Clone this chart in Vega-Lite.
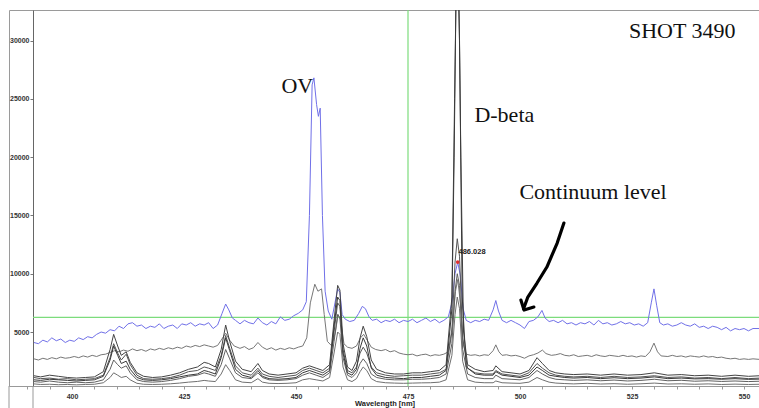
{
"$schema": "https://vega.github.io/schema/vega-lite/v6.json",
"width": 751, "height": 376,
"autosize": "none",
"padding": {"left": 9, "top": 10, "right": 0, "bottom": 22},
"background": "white",
"config": {"view": {"stroke": "#9a9a9a", "strokeWidth": 1}, "font": "Liberation Sans"},
"datasets": {
"spec": [
{"s":"B","x":391.5,"y":4100},{"s":"B","x":392.5,"y":4000},{"s":"B","x":393.5,"y":4300},{"s":"B","x":394.5,"y":4150},{"s":"B","x":395.5,"y":4500},{"s":"B","x":396.5,"y":4250},{"s":"B","x":397.5,"y":4400},{"s":"B","x":398.5,"y":4100},{"s":"B","x":399.5,"y":4300},{"s":"B","x":400.5,"y":4200},{"s":"B","x":401.5,"y":4500},{"s":"B","x":402.5,"y":4350},{"s":"B","x":403.5,"y":4600},{"s":"B","x":404.5,"y":4500},{"s":"B","x":405.5,"y":4800},{"s":"B","x":406.5,"y":5000},{"s":"B","x":407.5,"y":4900},{"s":"B","x":408.5,"y":5200},{"s":"B","x":409.5,"y":5100},{"s":"B","x":410.5,"y":5500},{"s":"B","x":411.5,"y":5300},{"s":"B","x":412.5,"y":5700},{"s":"B","x":413.5,"y":5800},{"s":"B","x":414.5,"y":5500},{"s":"B","x":415.5,"y":5600},{"s":"B","x":416.5,"y":5300},{"s":"B","x":417.5,"y":5500},{"s":"B","x":418.5,"y":5400},{"s":"B","x":419.5,"y":5700},{"s":"B","x":420.5,"y":5300},{"s":"B","x":421.5,"y":5500},{"s":"B","x":422.5,"y":5600},{"s":"B","x":423.5,"y":5300},{"s":"B","x":424.5,"y":5700},{"s":"B","x":425.5,"y":5600},{"s":"B","x":426.5,"y":5800},{"s":"B","x":427.5,"y":5500},{"s":"B","x":428.5,"y":5700},{"s":"B","x":429.5,"y":5600},{"s":"B","x":430.5,"y":5800},{"s":"B","x":431.5,"y":5300},{"s":"B","x":432.5,"y":5600},{"s":"B","x":433.5,"y":6600},{"s":"B","x":434.3,"y":7400},{"s":"B","x":435.0,"y":6900},{"s":"B","x":435.8,"y":6200},{"s":"B","x":436.5,"y":6000},{"s":"B","x":437.5,"y":5700},{"s":"B","x":438.5,"y":6000},{"s":"B","x":439.5,"y":5800},{"s":"B","x":440.5,"y":5700},{"s":"B","x":441.5,"y":6200},{"s":"B","x":442.5,"y":5800},{"s":"B","x":443.5,"y":5600},{"s":"B","x":444.5,"y":5900},{"s":"B","x":445.5,"y":5700},{"s":"B","x":446.5,"y":6300},{"s":"B","x":447.5,"y":6000},{"s":"B","x":448.5,"y":6100},{"s":"B","x":449.5,"y":6400},{"s":"B","x":450.5,"y":6600},{"s":"B","x":451.5,"y":6900},{"s":"B","x":452.3,"y":7600},{"s":"B","x":453.0,"y":15000},{"s":"B","x":453.6,"y":26200},{"s":"B","x":454.0,"y":26800},{"s":"B","x":454.6,"y":24500},{"s":"B","x":455.0,"y":23500},{"s":"B","x":455.4,"y":24200},{"s":"B","x":455.9,"y":15000},{"s":"B","x":456.5,"y":8500},{"s":"B","x":457.2,"y":6800},{"s":"B","x":458.0,"y":6100},{"s":"B","x":458.7,"y":7500},{"s":"B","x":459.3,"y":8700},{"s":"B","x":459.8,"y":8400},{"s":"B","x":460.3,"y":6500},{"s":"B","x":461.0,"y":6100},{"s":"B","x":462.0,"y":5900},{"s":"B","x":463.0,"y":6000},{"s":"B","x":464.0,"y":6600},{"s":"B","x":464.8,"y":7200},{"s":"B","x":465.5,"y":7000},{"s":"B","x":466.3,"y":6300},{"s":"B","x":467.0,"y":6000},{"s":"B","x":468.0,"y":6100},{"s":"B","x":469.0,"y":5800},{"s":"B","x":470.0,"y":6000},{"s":"B","x":471.0,"y":5900},{"s":"B","x":472.0,"y":6100},{"s":"B","x":473.0,"y":5800},{"s":"B","x":474.0,"y":6000},{"s":"B","x":475.0,"y":5900},{"s":"B","x":476.0,"y":6100},{"s":"B","x":477.0,"y":5800},{"s":"B","x":478.0,"y":6000},{"s":"B","x":479.0,"y":6200},{"s":"B","x":480.0,"y":5900},{"s":"B","x":481.0,"y":6100},{"s":"B","x":482.0,"y":5800},{"s":"B","x":483.0,"y":6000},{"s":"B","x":484.0,"y":6300},{"s":"B","x":484.8,"y":7500},{"s":"B","x":485.5,"y":10000},{"s":"B","x":486.1,"y":11000},{"s":"B","x":486.7,"y":9800},{"s":"B","x":487.3,"y":7000},{"s":"B","x":488.0,"y":6000},{"s":"B","x":489.0,"y":5800},{"s":"B","x":490.0,"y":6000},{"s":"B","x":491.0,"y":5900},{"s":"B","x":492.0,"y":6100},{"s":"B","x":493.0,"y":6000},{"s":"B","x":494.0,"y":6900},{"s":"B","x":494.6,"y":7700},{"s":"B","x":495.2,"y":6800},{"s":"B","x":496.0,"y":6000},{"s":"B","x":497.0,"y":5800},{"s":"B","x":498.0,"y":6000},{"s":"B","x":499.0,"y":5800},{"s":"B","x":500.0,"y":5600},{"s":"B","x":501.0,"y":5300},{"s":"B","x":502.0,"y":5900},{"s":"B","x":503.0,"y":6000},{"s":"B","x":504.0,"y":6300},{"s":"B","x":504.9,"y":6850},{"s":"B","x":505.6,"y":6200},{"s":"B","x":506.5,"y":5900},{"s":"B","x":507.5,"y":6000},{"s":"B","x":508.5,"y":5800},{"s":"B","x":509.5,"y":6000},{"s":"B","x":510.5,"y":5700},{"s":"B","x":511.5,"y":5800},{"s":"B","x":512.5,"y":5600},{"s":"B","x":513.5,"y":5800},{"s":"B","x":514.5,"y":5700},{"s":"B","x":515.5,"y":5900},{"s":"B","x":516.5,"y":5600},{"s":"B","x":517.5,"y":6000},{"s":"B","x":518.5,"y":5700},{"s":"B","x":519.5,"y":5800},{"s":"B","x":520.5,"y":5600},{"s":"B","x":521.5,"y":5700},{"s":"B","x":522.5,"y":5900},{"s":"B","x":523.5,"y":5700},{"s":"B","x":524.5,"y":5800},{"s":"B","x":525.5,"y":5600},{"s":"B","x":526.5,"y":5700},{"s":"B","x":527.5,"y":5500},{"s":"B","x":528.5,"y":5800},{"s":"B","x":529.3,"y":7500},{"s":"B","x":529.9,"y":8700},{"s":"B","x":530.5,"y":7300},{"s":"B","x":531.2,"y":5800},{"s":"B","x":532.0,"y":5600},{"s":"B","x":533.0,"y":5700},{"s":"B","x":534.0,"y":5500},{"s":"B","x":535.0,"y":5600},{"s":"B","x":536.0,"y":5800},{"s":"B","x":537.0,"y":5600},{"s":"B","x":538.0,"y":5500},{"s":"B","x":539.0,"y":5700},{"s":"B","x":540.0,"y":5400},{"s":"B","x":541.0,"y":5500},{"s":"B","x":542.0,"y":5300},{"s":"B","x":543.0,"y":5500},{"s":"B","x":544.0,"y":5400},{"s":"B","x":545.0,"y":5200},{"s":"B","x":546.0,"y":5400},{"s":"B","x":547.0,"y":5100},{"s":"B","x":548.0,"y":5300},{"s":"B","x":549.0,"y":5200},{"s":"B","x":550.0,"y":5300},{"s":"B","x":551.0,"y":5100},{"s":"B","x":552.0,"y":5300},{"s":"B","x":553.5,"y":5300},

{"s":"G","x":391.5,"y":2700},{"s":"G","x":392.5,"y":2600},{"s":"G","x":393.5,"y":2750},{"s":"G","x":394.5,"y":2650},{"s":"G","x":395.5,"y":2800},{"s":"G","x":396.5,"y":2700},{"s":"G","x":397.5,"y":2850},{"s":"G","x":398.5,"y":2750},{"s":"G","x":399.5,"y":2800},{"s":"G","x":400.5,"y":2900},{"s":"G","x":401.5,"y":2800},{"s":"G","x":402.5,"y":2950},{"s":"G","x":403.5,"y":2850},{"s":"G","x":404.5,"y":3000},{"s":"G","x":405.5,"y":2900},{"s":"G","x":406.5,"y":3050},{"s":"G","x":407.5,"y":3100},{"s":"G","x":408.5,"y":3250},{"s":"G","x":409.5,"y":3400},{"s":"G","x":410.5,"y":3300},{"s":"G","x":411.5,"y":3450},{"s":"G","x":412.5,"y":3350},{"s":"G","x":413.5,"y":3550},{"s":"G","x":414.5,"y":3400},{"s":"G","x":415.5,"y":3500},{"s":"G","x":416.5,"y":3350},{"s":"G","x":417.5,"y":3550},{"s":"G","x":418.5,"y":3450},{"s":"G","x":419.5,"y":3600},{"s":"G","x":420.5,"y":3500},{"s":"G","x":421.5,"y":3650},{"s":"G","x":422.5,"y":3550},{"s":"G","x":423.5,"y":3700},{"s":"G","x":424.5,"y":3600},{"s":"G","x":425.5,"y":3800},{"s":"G","x":426.5,"y":3700},{"s":"G","x":427.5,"y":3850},{"s":"G","x":428.5,"y":3750},{"s":"G","x":429.5,"y":3900},{"s":"G","x":430.5,"y":3800},{"s":"G","x":431.5,"y":3700},{"s":"G","x":432.5,"y":3850},{"s":"G","x":433.3,"y":4300},{"s":"G","x":434.3,"y":4900},{"s":"G","x":435.2,"y":4300},{"s":"G","x":436.2,"y":3800},{"s":"G","x":437.5,"y":3600},{"s":"G","x":438.5,"y":3750},{"s":"G","x":439.5,"y":3500},{"s":"G","x":440.5,"y":3650},{"s":"G","x":441.5,"y":4100},{"s":"G","x":442.5,"y":3700},{"s":"G","x":443.5,"y":3500},{"s":"G","x":444.5,"y":3650},{"s":"G","x":445.5,"y":3450},{"s":"G","x":446.5,"y":3600},{"s":"G","x":447.5,"y":3500},{"s":"G","x":448.5,"y":3650},{"s":"G","x":449.5,"y":3550},{"s":"G","x":450.5,"y":3700},{"s":"G","x":451.5,"y":3800},{"s":"G","x":452.4,"y":4500},{"s":"G","x":453.2,"y":7500},{"s":"G","x":454.2,"y":9100},{"s":"G","x":454.9,"y":8500},{"s":"G","x":455.7,"y":8700},{"s":"G","x":456.3,"y":6500},{"s":"G","x":457.0,"y":4200},{"s":"G","x":458.0,"y":3800},{"s":"G","x":458.8,"y":5000},{"s":"G","x":459.4,"y":6500},{"s":"G","x":460.0,"y":6000},{"s":"G","x":460.7,"y":4000},{"s":"G","x":461.5,"y":3700},{"s":"G","x":462.5,"y":3600},{"s":"G","x":463.5,"y":3800},{"s":"G","x":464.4,"y":4500},{"s":"G","x":465.1,"y":4800},{"s":"G","x":465.9,"y":4300},{"s":"G","x":466.8,"y":3700},{"s":"G","x":467.8,"y":3500},{"s":"G","x":469,"y":3400},{"s":"G","x":470,"y":3500},{"s":"G","x":471,"y":3300},{"s":"G","x":472,"y":3400},{"s":"G","x":473,"y":3200},{"s":"G","x":474,"y":3100},{"s":"G","x":475,"y":3050},{"s":"G","x":476,"y":3100},{"s":"G","x":477,"y":2950},{"s":"G","x":478,"y":3050},{"s":"G","x":479,"y":3100},{"s":"G","x":480,"y":2950},{"s":"G","x":481,"y":3050},{"s":"G","x":482,"y":3000},{"s":"G","x":483,"y":3100},{"s":"G","x":484,"y":3300},{"s":"G","x":484.9,"y":5500},{"s":"G","x":485.6,"y":8500},{"s":"G","x":486.1,"y":9500},{"s":"G","x":486.7,"y":7500},{"s":"G","x":487.3,"y":4000},{"s":"G","x":488,"y":3100},{"s":"G","x":489,"y":3000},{"s":"G","x":490,"y":3050},{"s":"G","x":491,"y":2950},{"s":"G","x":492,"y":3050},{"s":"G","x":493,"y":3000},{"s":"G","x":494,"y":3400},{"s":"G","x":494.6,"y":3900},{"s":"G","x":495.3,"y":3300},{"s":"G","x":496,"y":3000},{"s":"G","x":497,"y":3050},{"s":"G","x":498,"y":2950},{"s":"G","x":499,"y":3000},{"s":"G","x":500,"y":2900},{"s":"G","x":501,"y":2750},{"s":"G","x":502,"y":2950},{"s":"G","x":503,"y":3050},{"s":"G","x":504,"y":3200},{"s":"G","x":505,"y":3450},{"s":"G","x":505.8,"y":3150},{"s":"G","x":507,"y":3000},{"s":"G","x":508,"y":3050},{"s":"G","x":509,"y":3150},{"s":"G","x":510,"y":3000},{"s":"G","x":511,"y":2950},{"s":"G","x":512,"y":3050},{"s":"G","x":513,"y":2900},{"s":"G","x":514,"y":2950},{"s":"G","x":515,"y":3000},{"s":"G","x":516,"y":2900},{"s":"G","x":517,"y":3050},{"s":"G","x":518,"y":2950},{"s":"G","x":519,"y":2900},{"s":"G","x":520,"y":3000},{"s":"G","x":521,"y":2950},{"s":"G","x":522,"y":2900},{"s":"G","x":523,"y":3000},{"s":"G","x":524,"y":2900},{"s":"G","x":525,"y":2950},{"s":"G","x":526,"y":2850},{"s":"G","x":527,"y":2950},{"s":"G","x":528,"y":2900},{"s":"G","x":529,"y":3300},{"s":"G","x":529.9,"y":4050},{"s":"G","x":530.7,"y":3300},{"s":"G","x":531.5,"y":2950},{"s":"G","x":533,"y":2900},{"s":"G","x":534,"y":3000},{"s":"G","x":535,"y":2900},{"s":"G","x":536,"y":2950},{"s":"G","x":537,"y":2850},{"s":"G","x":538,"y":2950},{"s":"G","x":539,"y":2900},{"s":"G","x":540,"y":2850},{"s":"G","x":541,"y":2950},{"s":"G","x":542,"y":2850},{"s":"G","x":543,"y":2900},{"s":"G","x":544,"y":2800},{"s":"G","x":545,"y":2850},{"s":"G","x":546,"y":2750},{"s":"G","x":547,"y":2700},{"s":"G","x":548,"y":2750},{"s":"G","x":549,"y":2650},{"s":"G","x":550,"y":2700},{"s":"G","x":551,"y":2650},{"s":"G","x":552,"y":2700},{"s":"G","x":553.5,"y":2650},

{"s":"K1","x":391.5,"y":1250},{"s":"K1","x":393,"y":1150},{"s":"K1","x":395,"y":1300},{"s":"K1","x":397,"y":1200},{"s":"K1","x":399,"y":1100},{"s":"K1","x":401,"y":1050},{"s":"K1","x":403,"y":1100},{"s":"K1","x":405,"y":1150},{"s":"K1","x":407,"y":1600},{"s":"K1","x":408.5,"y":3500},{"s":"K1","x":409.3,"y":4800},{"s":"K1","x":410.2,"y":3800},{"s":"K1","x":411,"y":3000},{"s":"K1","x":412.1,"y":3300},{"s":"K1","x":413,"y":2400},{"s":"K1","x":414.5,"y":1500},{"s":"K1","x":416,"y":1200},{"s":"K1","x":418,"y":1100},{"s":"K1","x":420,"y":1150},{"s":"K1","x":422,"y":1300},{"s":"K1","x":424,"y":1500},{"s":"K1","x":426,"y":1800},{"s":"K1","x":428,"y":2000},{"s":"K1","x":429.5,"y":2400},{"s":"K1","x":430.5,"y":2300},{"s":"K1","x":432,"y":2000},{"s":"K1","x":433.3,"y":3500},{"s":"K1","x":434.3,"y":5600},{"s":"K1","x":435.2,"y":4200},{"s":"K1","x":436.5,"y":2500},{"s":"K1","x":438,"y":1800},{"s":"K1","x":440,"y":1600},{"s":"K1","x":441.5,"y":2300},{"s":"K1","x":442.5,"y":1700},{"s":"K1","x":444,"y":1400},{"s":"K1","x":446,"y":1300},{"s":"K1","x":448,"y":1400},{"s":"K1","x":450,"y":1500},{"s":"K1","x":451.5,"y":1900},{"s":"K1","x":453,"y":2100},{"s":"K1","x":454.5,"y":1900},{"s":"K1","x":456,"y":1700},{"s":"K1","x":457.5,"y":2200},{"s":"K1","x":458.5,"y":6000},{"s":"K1","x":459.3,"y":9000},{"s":"K1","x":459.8,"y":8600},{"s":"K1","x":460.5,"y":4000},{"s":"K1","x":461.5,"y":2000},{"s":"K1","x":462.5,"y":1700},{"s":"K1","x":463.5,"y":2500},{"s":"K1","x":464.3,"y":4500},{"s":"K1","x":465,"y":5500},{"s":"K1","x":465.8,"y":4600},{"s":"K1","x":466.8,"y":2600},{"s":"K1","x":468,"y":1800},{"s":"K1","x":470,"y":1500},{"s":"K1","x":472,"y":1400},{"s":"K1","x":474,"y":1400},{"s":"K1","x":476,"y":1500},{"s":"K1","x":478,"y":1500},{"s":"K1","x":480,"y":1600},{"s":"K1","x":482,"y":1700},{"s":"K1","x":483.5,"y":2200},{"s":"K1","x":484.8,"y":8000},{"s":"K1","x":485.4,"y":25000},{"s":"K1","x":485.8,"y":36000},{"s":"K1","x":486.3,"y":36000},{"s":"K1","x":486.8,"y":20000},{"s":"K1","x":487.4,"y":5000},{"s":"K1","x":488.3,"y":2200},{"s":"K1","x":490,"y":1800},{"s":"K1","x":492,"y":1600},{"s":"K1","x":494,"y":1700},{"s":"K1","x":494.6,"y":2100},{"s":"K1","x":496,"y":1600},{"s":"K1","x":498,"y":1500},{"s":"K1","x":500,"y":1400},{"s":"K1","x":502,"y":1700},{"s":"K1","x":503.8,"y":2800},{"s":"K1","x":505,"y":2300},{"s":"K1","x":506.5,"y":1700},{"s":"K1","x":508,"y":1500},{"s":"K1","x":510,"y":1400},{"s":"K1","x":512,"y":1350},{"s":"K1","x":515,"y":1400},{"s":"K1","x":518,"y":1300},{"s":"K1","x":521,"y":1400},{"s":"K1","x":524,"y":1300},{"s":"K1","x":527,"y":1350},{"s":"K1","x":530,"y":1500},{"s":"K1","x":533,"y":1300},{"s":"K1","x":536,"y":1350},{"s":"K1","x":539,"y":1250},{"s":"K1","x":542,"y":1300},{"s":"K1","x":545,"y":1200},{"s":"K1","x":548,"y":1300},{"s":"K1","x":551,"y":1200},{"s":"K1","x":553.5,"y":1250},

{"s":"K2","x":391.5,"y":1100},{"s":"K2","x":393,"y":1000},{"s":"K2","x":395,"y":1050},{"s":"K2","x":397,"y":950},{"s":"K2","x":399,"y":1000},{"s":"K2","x":401,"y":900},{"s":"K2","x":403,"y":950},{"s":"K2","x":405,"y":1000},{"s":"K2","x":407,"y":1300},{"s":"K2","x":408.5,"y":2800},{"s":"K2","x":409.3,"y":4000},{"s":"K2","x":410.2,"y":3200},{"s":"K2","x":411,"y":2600},{"s":"K2","x":412.1,"y":3100},{"s":"K2","x":413,"y":2200},{"s":"K2","x":414.5,"y":1300},{"s":"K2","x":416,"y":1000},{"s":"K2","x":418,"y":950},{"s":"K2","x":420,"y":1000},{"s":"K2","x":422,"y":1100},{"s":"K2","x":424,"y":1300},{"s":"K2","x":426,"y":1600},{"s":"K2","x":428,"y":1700},{"s":"K2","x":429.5,"y":2000},{"s":"K2","x":430.5,"y":1900},{"s":"K2","x":432,"y":1700},{"s":"K2","x":433.3,"y":3000},{"s":"K2","x":434.3,"y":4700},{"s":"K2","x":435.2,"y":3600},{"s":"K2","x":436.5,"y":2100},{"s":"K2","x":438,"y":1500},{"s":"K2","x":440,"y":1300},{"s":"K2","x":441.5,"y":1900},{"s":"K2","x":442.5,"y":1400},{"s":"K2","x":444,"y":1200},{"s":"K2","x":446,"y":1100},{"s":"K2","x":448,"y":1200},{"s":"K2","x":450,"y":1300},{"s":"K2","x":451.5,"y":1700},{"s":"K2","x":453,"y":1900},{"s":"K2","x":454.5,"y":1700},{"s":"K2","x":456,"y":1500},{"s":"K2","x":457.5,"y":1900},{"s":"K2","x":458.5,"y":5000},{"s":"K2","x":459.3,"y":7500},{"s":"K2","x":459.8,"y":7200},{"s":"K2","x":460.5,"y":3500},{"s":"K2","x":461.5,"y":1700},{"s":"K2","x":462.5,"y":1500},{"s":"K2","x":463.5,"y":2000},{"s":"K2","x":464.3,"y":3200},{"s":"K2","x":465,"y":3700},{"s":"K2","x":465.8,"y":3200},{"s":"K2","x":466.8,"y":2000},{"s":"K2","x":468,"y":1500},{"s":"K2","x":470,"y":1300},{"s":"K2","x":472,"y":1200},{"s":"K2","x":474,"y":1250},{"s":"K2","x":476,"y":1300},{"s":"K2","x":478,"y":1300},{"s":"K2","x":480,"y":1400},{"s":"K2","x":482,"y":1500},{"s":"K2","x":483.5,"y":1800},{"s":"K2","x":484.8,"y":5000},{"s":"K2","x":485.5,"y":11000},{"s":"K2","x":486.0,"y":13000},{"s":"K2","x":486.5,"y":11500},{"s":"K2","x":487.2,"y":4500},{"s":"K2","x":488.3,"y":1900},{"s":"K2","x":490,"y":1500},{"s":"K2","x":492,"y":1400},{"s":"K2","x":494,"y":1400},{"s":"K2","x":494.6,"y":1700},{"s":"K2","x":496,"y":1400},{"s":"K2","x":498,"y":1300},{"s":"K2","x":500,"y":1200},{"s":"K2","x":502,"y":1500},{"s":"K2","x":503.8,"y":2300},{"s":"K2","x":505,"y":1900},{"s":"K2","x":506.5,"y":1500},{"s":"K2","x":508,"y":1300},{"s":"K2","x":510,"y":1200},{"s":"K2","x":512,"y":1150},{"s":"K2","x":515,"y":1200},{"s":"K2","x":518,"y":1100},{"s":"K2","x":521,"y":1200},{"s":"K2","x":524,"y":1100},{"s":"K2","x":527,"y":1150},{"s":"K2","x":530,"y":1250},{"s":"K2","x":533,"y":1100},{"s":"K2","x":536,"y":1150},{"s":"K2","x":539,"y":1050},{"s":"K2","x":542,"y":1100},{"s":"K2","x":545,"y":1000},{"s":"K2","x":548,"y":1100},{"s":"K2","x":551,"y":1000},{"s":"K2","x":553.5,"y":1050},

{"s":"K3","x":391.5,"y":750},{"s":"K3","x":393,"y":700},{"s":"K3","x":395,"y":800},{"s":"K3","x":397,"y":700},{"s":"K3","x":399,"y":650},{"s":"K3","x":401,"y":700},{"s":"K3","x":403,"y":650},{"s":"K3","x":405,"y":700},{"s":"K3","x":407,"y":900},{"s":"K3","x":408.5,"y":1800},{"s":"K3","x":409.3,"y":2600},{"s":"K3","x":410.2,"y":2200},{"s":"K3","x":411,"y":1900},{"s":"K3","x":412.1,"y":2100},{"s":"K3","x":413,"y":1500},{"s":"K3","x":414.5,"y":900},{"s":"K3","x":416,"y":750},{"s":"K3","x":418,"y":700},{"s":"K3","x":420,"y":750},{"s":"K3","x":422,"y":850},{"s":"K3","x":424,"y":1000},{"s":"K3","x":426,"y":1200},{"s":"K3","x":428,"y":1300},{"s":"K3","x":429.5,"y":1500},{"s":"K3","x":430.5,"y":1400},{"s":"K3","x":432,"y":1200},{"s":"K3","x":433.3,"y":2200},{"s":"K3","x":434.3,"y":3500},{"s":"K3","x":435.2,"y":2700},{"s":"K3","x":436.5,"y":1500},{"s":"K3","x":438,"y":1100},{"s":"K3","x":440,"y":1000},{"s":"K3","x":441.5,"y":1500},{"s":"K3","x":442.5,"y":1100},{"s":"K3","x":444,"y":900},{"s":"K3","x":446,"y":850},{"s":"K3","x":448,"y":900},{"s":"K3","x":450,"y":1000},{"s":"K3","x":451.5,"y":1300},{"s":"K3","x":453,"y":1500},{"s":"K3","x":454.5,"y":1300},{"s":"K3","x":456,"y":1100},{"s":"K3","x":457.5,"y":1500},{"s":"K3","x":458.5,"y":4200},{"s":"K3","x":459.3,"y":6500},{"s":"K3","x":459.8,"y":6200},{"s":"K3","x":460.5,"y":2800},{"s":"K3","x":461.5,"y":1300},{"s":"K3","x":462.5,"y":1100},{"s":"K3","x":463.5,"y":1500},{"s":"K3","x":464.3,"y":2300},{"s":"K3","x":465,"y":2700},{"s":"K3","x":465.8,"y":2300},{"s":"K3","x":466.8,"y":1400},{"s":"K3","x":468,"y":1100},{"s":"K3","x":470,"y":950},{"s":"K3","x":472,"y":900},{"s":"K3","x":474,"y":900},{"s":"K3","x":476,"y":950},{"s":"K3","x":478,"y":950},{"s":"K3","x":480,"y":1000},{"s":"K3","x":482,"y":1100},{"s":"K3","x":483.5,"y":1400},{"s":"K3","x":484.8,"y":4000},{"s":"K3","x":485.5,"y":8500},{"s":"K3","x":486.0,"y":10000},{"s":"K3","x":486.5,"y":9000},{"s":"K3","x":487.2,"y":3500},{"s":"K3","x":488.3,"y":1400},{"s":"K3","x":490,"y":1100},{"s":"K3","x":492,"y":1000},{"s":"K3","x":494,"y":1000},{"s":"K3","x":494.6,"y":1300},{"s":"K3","x":496,"y":1000},{"s":"K3","x":498,"y":950},{"s":"K3","x":500,"y":900},{"s":"K3","x":502,"y":1100},{"s":"K3","x":503.8,"y":1700},{"s":"K3","x":505,"y":1400},{"s":"K3","x":506.5,"y":1100},{"s":"K3","x":508,"y":950},{"s":"K3","x":510,"y":900},{"s":"K3","x":512,"y":850},{"s":"K3","x":515,"y":900},{"s":"K3","x":518,"y":820},{"s":"K3","x":521,"y":880},{"s":"K3","x":524,"y":800},{"s":"K3","x":527,"y":850},{"s":"K3","x":530,"y":950},{"s":"K3","x":533,"y":820},{"s":"K3","x":536,"y":860},{"s":"K3","x":539,"y":780},{"s":"K3","x":542,"y":820},{"s":"K3","x":545,"y":760},{"s":"K3","x":548,"y":800},{"s":"K3","x":551,"y":750},{"s":"K3","x":553.5,"y":780},

{"s":"K4","x":391.5,"y":550},{"s":"K4","x":393,"y":500},{"s":"K4","x":395,"y":520},{"s":"K4","x":397,"y":480},{"s":"K4","x":399,"y":500},{"s":"K4","x":401,"y":470},{"s":"K4","x":403,"y":500},{"s":"K4","x":405,"y":520},{"s":"K4","x":407,"y":650},{"s":"K4","x":408.5,"y":1100},{"s":"K4","x":409.3,"y":1500},{"s":"K4","x":410.2,"y":1300},{"s":"K4","x":411,"y":1100},{"s":"K4","x":412.1,"y":1200},{"s":"K4","x":413,"y":900},{"s":"K4","x":414.5,"y":600},{"s":"K4","x":416,"y":520},{"s":"K4","x":418,"y":500},{"s":"K4","x":420,"y":520},{"s":"K4","x":422,"y":560},{"s":"K4","x":424,"y":620},{"s":"K4","x":426,"y":700},{"s":"K4","x":428,"y":760},{"s":"K4","x":429.5,"y":850},{"s":"K4","x":430.5,"y":800},{"s":"K4","x":432,"y":750},{"s":"K4","x":433.3,"y":1400},{"s":"K4","x":434.3,"y":2200},{"s":"K4","x":435.2,"y":1700},{"s":"K4","x":436.5,"y":900},{"s":"K4","x":438,"y":700},{"s":"K4","x":440,"y":650},{"s":"K4","x":441.5,"y":1000},{"s":"K4","x":442.5,"y":700},{"s":"K4","x":444,"y":600},{"s":"K4","x":446,"y":580},{"s":"K4","x":448,"y":600},{"s":"K4","x":450,"y":650},{"s":"K4","x":451.5,"y":900},{"s":"K4","x":453,"y":1000},{"s":"K4","x":454.5,"y":900},{"s":"K4","x":456,"y":800},{"s":"K4","x":457.5,"y":1100},{"s":"K4","x":458.5,"y":3200},{"s":"K4","x":459.3,"y":5000},{"s":"K4","x":459.8,"y":4800},{"s":"K4","x":460.5,"y":2000},{"s":"K4","x":461.5,"y":900},{"s":"K4","x":462.5,"y":750},{"s":"K4","x":463.5,"y":1000},{"s":"K4","x":464.3,"y":1600},{"s":"K4","x":465,"y":2000},{"s":"K4","x":465.8,"y":1700},{"s":"K4","x":466.8,"y":1000},{"s":"K4","x":468,"y":750},{"s":"K4","x":470,"y":650},{"s":"K4","x":472,"y":620},{"s":"K4","x":474,"y":600},{"s":"K4","x":476,"y":620},{"s":"K4","x":478,"y":640},{"s":"K4","x":480,"y":650},{"s":"K4","x":482,"y":700},{"s":"K4","x":483.5,"y":900},{"s":"K4","x":484.8,"y":3000},{"s":"K4","x":485.5,"y":6500},{"s":"K4","x":486.0,"y":8000},{"s":"K4","x":486.5,"y":7000},{"s":"K4","x":487.2,"y":2500},{"s":"K4","x":488.3,"y":900},{"s":"K4","x":490,"y":700},{"s":"K4","x":492,"y":650},{"s":"K4","x":494,"y":650},{"s":"K4","x":494.6,"y":800},{"s":"K4","x":496,"y":650},{"s":"K4","x":498,"y":620},{"s":"K4","x":500,"y":600},{"s":"K4","x":502,"y":700},{"s":"K4","x":503.8,"y":1100},{"s":"K4","x":505,"y":900},{"s":"K4","x":506.5,"y":700},{"s":"K4","x":508,"y":620},{"s":"K4","x":510,"y":580},{"s":"K4","x":512,"y":550},{"s":"K4","x":515,"y":600},{"s":"K4","x":518,"y":540},{"s":"K4","x":521,"y":570},{"s":"K4","x":524,"y":520},{"s":"K4","x":527,"y":560},{"s":"K4","x":530,"y":620},{"s":"K4","x":533,"y":540},{"s":"K4","x":536,"y":560},{"s":"K4","x":539,"y":520},{"s":"K4","x":542,"y":550},{"s":"K4","x":545,"y":500},{"s":"K4","x":548,"y":530},{"s":"K4","x":551,"y":500},{"s":"K4","x":553.5,"y":520},

{"s":"K5","x":391.5,"y":900},{"s":"K5","x":393,"y":850},{"s":"K5","x":395,"y":950},{"s":"K5","x":397,"y":900},{"s":"K5","x":399,"y":850},{"s":"K5","x":401,"y":800},{"s":"K5","x":403,"y":850},{"s":"K5","x":405,"y":900},{"s":"K5","x":407,"y":1200},{"s":"K5","x":408.5,"y":2600},{"s":"K5","x":409.3,"y":3800},{"s":"K5","x":410.2,"y":3000},{"s":"K5","x":411,"y":2300},{"s":"K5","x":412.1,"y":2500},{"s":"K5","x":413,"y":1800},{"s":"K5","x":414.5,"y":1100},{"s":"K5","x":416,"y":900},{"s":"K5","x":418,"y":850},{"s":"K5","x":420,"y":900},{"s":"K5","x":422,"y":1000},{"s":"K5","x":424,"y":1150},{"s":"K5","x":426,"y":1300},{"s":"K5","x":428,"y":1400},{"s":"K5","x":429.5,"y":1700},{"s":"K5","x":430.5,"y":1600},{"s":"K5","x":432,"y":1400},{"s":"K5","x":433.3,"y":2800},{"s":"K5","x":434.3,"y":4500},{"s":"K5","x":435.2,"y":3400},{"s":"K5","x":436.5,"y":1800},{"s":"K5","x":438,"y":1300},{"s":"K5","x":440,"y":1100},{"s":"K5","x":441.5,"y":1700},{"s":"K5","x":442.5,"y":1200},{"s":"K5","x":444,"y":1000},{"s":"K5","x":446,"y":950},{"s":"K5","x":448,"y":1000},{"s":"K5","x":450,"y":1100},{"s":"K5","x":451.5,"y":1500},{"s":"K5","x":453,"y":1700},{"s":"K5","x":454.5,"y":1500},{"s":"K5","x":456,"y":1300},{"s":"K5","x":457.5,"y":1700},{"s":"K5","x":458.5,"y":5500},{"s":"K5","x":459.3,"y":8000},{"s":"K5","x":459.8,"y":7700},{"s":"K5","x":460.5,"y":3200},{"s":"K5","x":461.5,"y":1500},{"s":"K5","x":462.5,"y":1300},{"s":"K5","x":463.5,"y":1800},{"s":"K5","x":464.3,"y":3600},{"s":"K5","x":465,"y":4500},{"s":"K5","x":465.8,"y":3800},{"s":"K5","x":466.8,"y":1900},{"s":"K5","x":468,"y":1300},{"s":"K5","x":470,"y":1100},{"s":"K5","x":472,"y":1050},{"s":"K5","x":474,"y":1000},{"s":"K5","x":476,"y":1100},{"s":"K5","x":478,"y":1100},{"s":"K5","x":480,"y":1200},{"s":"K5","x":482,"y":1300},{"s":"K5","x":483.5,"y":1700},{"s":"K5","x":484.8,"y":7000},{"s":"K5","x":485.3,"y":20000},{"s":"K5","x":485.9,"y":40000},{"s":"K5","x":486.5,"y":30000},{"s":"K5","x":487.1,"y":8000},{"s":"K5","x":488,"y":2000},{"s":"K5","x":490,"y":1400},{"s":"K5","x":492,"y":1300},{"s":"K5","x":494,"y":1300},{"s":"K5","x":494.6,"y":1600},{"s":"K5","x":496,"y":1300},{"s":"K5","x":498,"y":1200},{"s":"K5","x":500,"y":1100},{"s":"K5","x":502,"y":1300},{"s":"K5","x":503.8,"y":2000},{"s":"K5","x":505,"y":1700},{"s":"K5","x":506.5,"y":1300},{"s":"K5","x":508,"y":1200},{"s":"K5","x":510,"y":1100},{"s":"K5","x":512,"y":1050},{"s":"K5","x":515,"y":1100},{"s":"K5","x":518,"y":1000},{"s":"K5","x":521,"y":1080},{"s":"K5","x":524,"y":1000},{"s":"K5","x":527,"y":1050},{"s":"K5","x":530,"y":1150},{"s":"K5","x":533,"y":1000},{"s":"K5","x":536,"y":1050},{"s":"K5","x":539,"y":980},{"s":"K5","x":542,"y":1000},{"s":"K5","x":545,"y":950},{"s":"K5","x":548,"y":1000},{"s":"K5","x":551,"y":940},{"s":"K5","x":553.5,"y":960}
],
"arrow": [
{"seg":"shaft","o":1,"x":509.8,"y":14348},{"seg":"shaft","o":2,"x":508.3,"y":12633},{"seg":"shaft","o":3,"x":506.0,"y":10574},{"seg":"shaft","o":4,"x":503.8,"y":9202},{"seg":"shaft","o":5,"x":501.75,"y":8002},{"seg":"shaft","o":6,"x":500.8,"y":7000},
{"seg":"head","o":1,"x":500.2,"y":7744},{"seg":"head","o":2,"x":500.9,"y":6887},{"seg":"head","o":3,"x":503.1,"y":7144}
],
"notes": [
{"label":"SHOT 3490","x":536.2,"y":30213},
{"label":"OV","x":450.3,"y":25497},
{"label":"D-beta","x":496.5,"y":23035},
{"label":"Continuum level","x":516.3,"y":16406}
]
},
"encoding": {
"x": {"field":"x","type":"quantitative","scale":{"domain":[385.94,553.57],"nice":false,"zero":false},
 "axis":{"title":"Wavelength [nm]","titleFontSize":7.5,"titleFontWeight":"bold","titleColor":"#222","titlePadding":0,
 "values":[390,395,400,405,410,415,420,425,430,435,440,445,450,455,460,465,470,475,480,485,490,495,500,505,510,515,520,525,530,535,540,545,550],
 "labelExpr":"datum.value % 25 === 0 ? datum.label : ''","labelFontSize":7,"labelFontWeight":"bold","labelColor":"#333","labelPadding":3,
 "tickSize":3,"tickColor":"#999","domainColor":"#999","grid":false,"labelFlush":false,"labelOverlap":false}},
"y": {"field":"y","type":"quantitative","scale":{"domain":[370,32620],"nice":false,"zero":false},
 "axis":{"title":null,"offset":-24,"format":"d","values":[5000,10000,15000,20000,25000,30000],"labelFontSize":7,"labelFontWeight":"bold","labelColor":"#333",
 "labelPadding":1,"tickSize":3,"tickColor":"#777","domainColor":"#666","grid":false,"labelFlush":false}}
},
"layer": [
{"data":{"values":[{"x":475,"y":370,"y2":32620}]},"mark":{"type":"rule","stroke":"#7cdc7c","strokeWidth":1.2},
 "encoding":{"y2":{"field":"y2"}}},
{"data":{"values":[{"x":391.3,"x2":553.57,"y":6250}]},"mark":{"type":"rule","stroke":"#7cdc7c","strokeWidth":1.2},
 "encoding":{"x2":{"field":"x2"}}},
{"data":{"values":[{"x":385.94,"y":370,"y2":-1517},{"x":391.3,"y":370,"y2":-1517}]},"mark":{"type":"rule","stroke":"#999","strokeWidth":1},
 "encoding":{"y2":{"field":"y2"}}},
{"data":{"name":"spec"},"mark":{"type":"line","clip":true,"strokeWidth":1},
 "encoding":{"color":{"field":"s","type":"nominal","legend":null,
   "scale":{"domain":["K4","K3","K2","G","K1","K5","B"],"range":["#707070","#606060","#555555","#777777","#444444","#3a3a3a","#7070e8"]}},
   "order":{"field":"x","type":"quantitative"}}},
{"data":{"values":[{"x":486.1,"y":11003}]},"mark":{"type":"point","filled":true,"color":"#e03030","size":14,"opacity":1}},
{"data":{"values":[{"x":489.3,"y":11689,"label":"486.028"}]},"mark":{"type":"text","fontSize":7.5,"fontWeight":"bold","color":"#222","align":"center","baseline":"alphabetic"},
 "encoding":{"text":{"field":"label"}}},
{"data":{"name":"notes"},"mark":{"type":"text","font":"Liberation Serif","fontSize":22,"color":"#111","align":"center","baseline":"alphabetic"},
 "encoding":{"text":{"field":"label"}}},
{"data":{"name":"arrow"},"mark":{"type":"line","color":"#000","strokeWidth":3.2,"strokeCap":"round","strokeJoin":"round"},
 "encoding":{"detail":{"field":"seg"},"order":{"field":"o","type":"quantitative"}}}
]
}
